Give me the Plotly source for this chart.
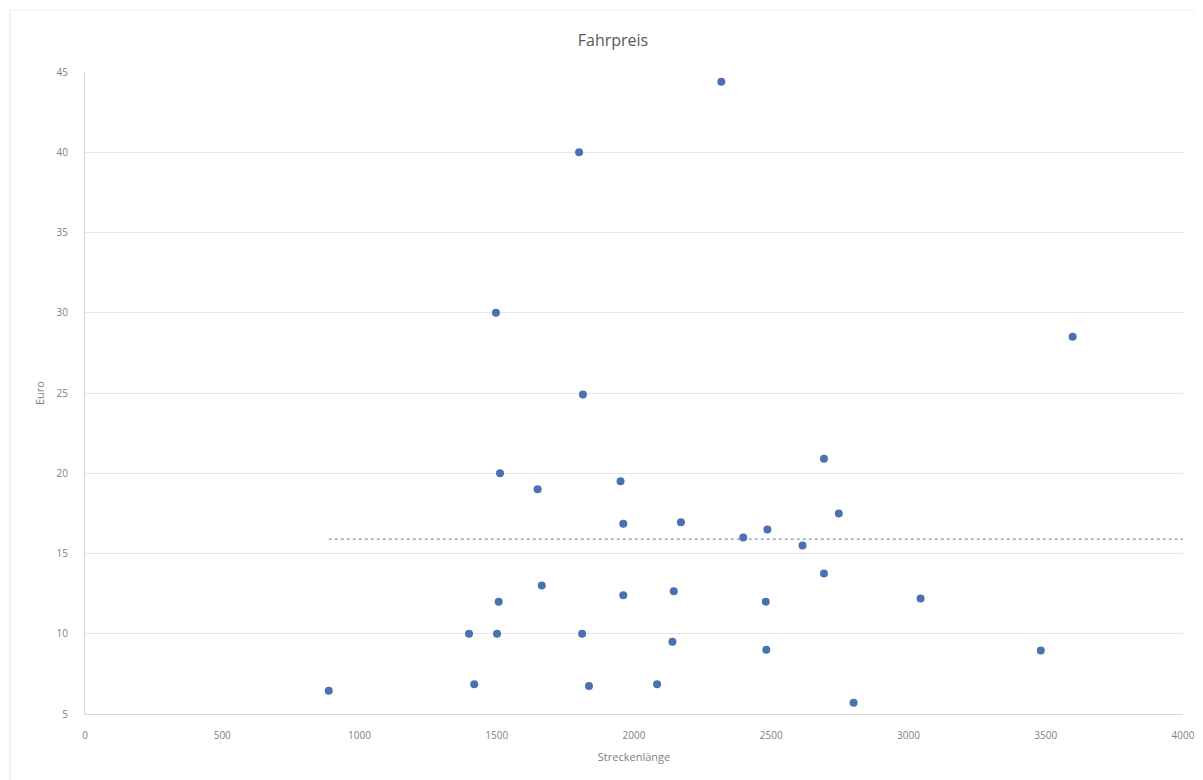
import numpy as np
import plotly.graph_objects as go

# Data
streckenlaenge = [888, 1399, 1418, 1497, 1501, 1507, 1512, 1649, 1664, 1800,
                  1811, 1814, 1836, 1951, 1961, 1961, 2084, 2140, 2145, 2171,
                  2318, 2398, 2480, 2482, 2486, 2614, 2692, 2692, 2746, 2800,
                  3044, 3482, 3598]
euro = [6.45, 10.0, 6.85, 30.0, 10.0, 12.0, 20.0, 19.0, 13.0, 40.0,
        10.0, 24.9, 6.75, 19.5, 16.85, 12.4, 6.85, 9.5, 12.65, 16.95,
        44.4, 16.0, 12.0, 9.0, 16.5, 15.5, 20.9, 13.75, 17.5, 5.7,
        12.2, 8.95, 28.5]

x_ticks = [0, 500, 1000, 1500, 2000, 2500, 3000, 3500, 4000]
y_ticks = [5, 10, 15, 20, 25, 30, 35, 40, 45]

# Flat trend line (mean of the prices), from the first point to the axis end
mean_euro = float(np.mean(euro))
tx = [min(streckenlaenge), 4000]
ty = [mean_euro, mean_euro]

fig = go.Figure()
fig.add_trace(go.Scatter(
    x=tx, y=ty, mode="lines",
    line=dict(color="#8595b3", width=1.2, dash="dot"),
    hoverinfo="skip", showlegend=False,
))
fig.add_trace(go.Scatter(
    x=streckenlaenge, y=euro, mode="markers",
    marker=dict(color="#4a72b0", size=8, line=dict(width=0)),
    showlegend=False,
))

W, H = 1203, 780
L, R, T, B = 85, 20, 72, 66
PW, PH = W - L - R, H - T - B

fig.update_layout(
    width=W, height=H,
    paper_bgcolor="white", plot_bgcolor="white",
    margin=dict(l=L, r=R, t=T, b=B, autoexpand=False),
    title=dict(text="Fahrpreis", x=613 / W, xanchor="center", y=1 - 40 / H, yanchor="middle",
               font=dict(family="Open Sans, Liberation Sans, sans-serif", size=16, color="#595959")),
    font=dict(family="Open Sans, Liberation Sans, sans-serif", color="#808080", size=10),
    xaxis=dict(
        range=[0, 4000], tickvals=x_ticks, ticktext=[str(v) for v in x_ticks],
        showgrid=False, zeroline=False, showline=True, linecolor="#d9d9d9", linewidth=1,
        ticks="", tickfont=dict(size=10, color="#808080"), automargin=False,
        ticklabelstandoff=12,
        title=dict(text="Streckenlänge", font=dict(size=11, color="#808080"), standoff=12),
    ),
    yaxis=dict(
        range=[5, 45], tickvals=y_ticks, ticktext=[str(v) for v in y_ticks],
        showgrid=True, gridcolor="#e6e6e6", gridwidth=1,
        zeroline=False, showline=True, linecolor="#d9d9d9", linewidth=1,
        ticks="", tickfont=dict(size=10, color="#808080"), ticklabelstandoff=14,
        automargin=False,
        title=dict(text="Euro", font=dict(size=11, color="#808080"), standoff=9),
    ),
    shapes=[
        dict(type="line", xref="paper", yref="paper",
             x0=(10 - L) / PW, x1=(10 - L) / PW, y0=-B / PH, y1=(PH + 62) / PH,
             line=dict(color="#e6e6e6", width=1)),
        dict(type="line", xref="paper", yref="paper",
             x0=(10 - L) / PW, x1=(1195 - L) / PW, y0=(PH + 62) / PH, y1=(PH + 62) / PH,
             line=dict(color="#eeeeee", width=1)),
    ],
)

fig.write_html("out.html", config={"displayModeBar": False},
               post_script="document.body.style.margin='0px';")
